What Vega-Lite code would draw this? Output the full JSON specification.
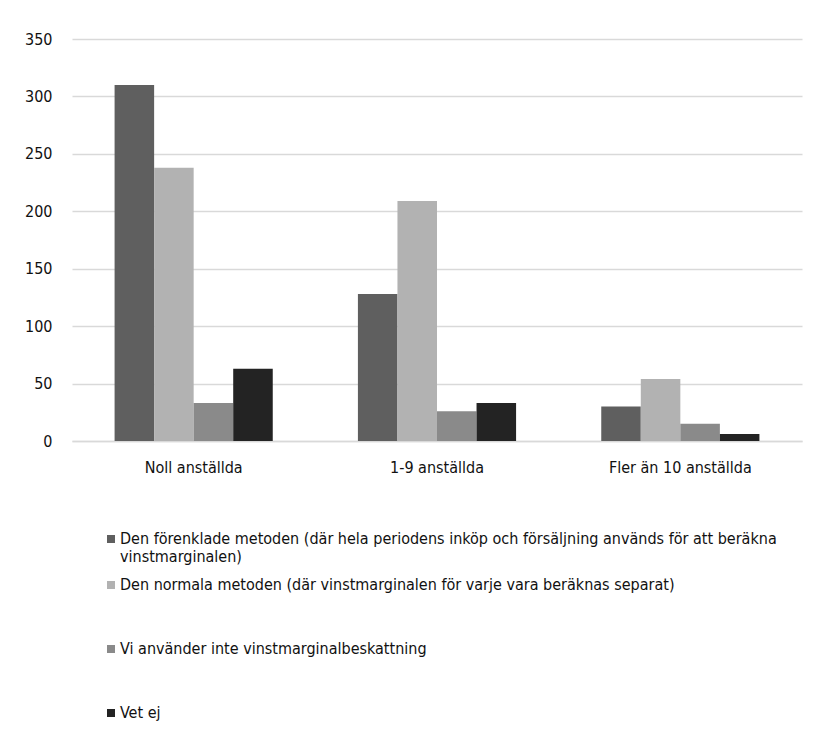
{
  "$schema": "https://vega.github.io/schema/vega-lite/v6.json",
  "width": 730,
  "height": 402,
  "autosize": {"type": "none"},
  "padding": {"left": 72, "top": 39, "right": 27, "bottom": 300},
  "background": "white",
  "data": {
    "values": [
      {"grupp": "Noll anställda", "metod": "Den förenklade metoden (där hela periodens inköp och försäljning används för att beräkna vinstmarginalen)", "antal": 310},
      {"grupp": "Noll anställda", "metod": "Den normala metoden (där vinstmarginalen för varje vara beräknas separat)", "antal": 238},
      {"grupp": "Noll anställda", "metod": "Vi använder inte vinstmarginalbeskattning", "antal": 33},
      {"grupp": "Noll anställda", "metod": "Vet ej", "antal": 63},
      {"grupp": "1-9 anställda", "metod": "Den förenklade metoden (där hela periodens inköp och försäljning används för att beräkna vinstmarginalen)", "antal": 128},
      {"grupp": "1-9 anställda", "metod": "Den normala metoden (där vinstmarginalen för varje vara beräknas separat)", "antal": 209},
      {"grupp": "1-9 anställda", "metod": "Vi använder inte vinstmarginalbeskattning", "antal": 26},
      {"grupp": "1-9 anställda", "metod": "Vet ej", "antal": 33},
      {"grupp": "Fler än 10 anställda", "metod": "Den förenklade metoden (där hela periodens inköp och försäljning används för att beräkna vinstmarginalen)", "antal": 30},
      {"grupp": "Fler än 10 anställda", "metod": "Den normala metoden (där vinstmarginalen för varje vara beräknas separat)", "antal": 54},
      {"grupp": "Fler än 10 anställda", "metod": "Vi använder inte vinstmarginalbeskattning", "antal": 15},
      {"grupp": "Fler än 10 anställda", "metod": "Vet ej", "antal": 6}
    ]
  },
  "mark": {"type": "bar"},
  "encoding": {
    "x": {
      "field": "grupp",
      "type": "nominal",
      "sort": ["Noll anställda", "1-9 anställda", "Fler än 10 anställda"],
      "scale": {"paddingInner": 0.35, "paddingOuter": 0.175},
      "axis": {
        "title": null,
        "labelAngle": 0,
        "ticks": false,
        "domainColor": "#d9d9d9",
        "domainWidth": 1.5,
        "labelPadding": 18,
        "labelFontSize": 16,
        "labelColor": "#111111",
        "labelFont": "Liberation Sans Narrow, DejaVu Sans Condensed, sans-serif"
      }
    },
    "xOffset": {
      "field": "metod",
      "type": "nominal",
      "sort": [
        "Den förenklade metoden (där hela periodens inköp och försäljning används för att beräkna vinstmarginalen)",
        "Den normala metoden (där vinstmarginalen för varje vara beräknas separat)",
        "Vi använder inte vinstmarginalbeskattning",
        "Vet ej"
      ],
      "scale": {"paddingInner": 0, "paddingOuter": 0}
    },
    "y": {
      "field": "antal",
      "type": "quantitative",
      "scale": {"domain": [0, 350], "nice": false},
      "axis": {
        "title": null,
        "values": [0, 50, 100, 150, 200, 250, 300, 350],
        "domain": false,
        "ticks": false,
        "gridColor": "#d9d9d9",
        "gridWidth": 1.5,
        "labelPadding": 20,
        "labelFontSize": 16,
        "labelColor": "#111111",
        "labelFont": "Liberation Sans Narrow, DejaVu Sans Condensed, sans-serif"
      }
    },
    "color": {
      "field": "metod",
      "type": "nominal",
      "sort": [
        "Den förenklade metoden (där hela periodens inköp och försäljning används för att beräkna vinstmarginalen)",
        "Den normala metoden (där vinstmarginalen för varje vara beräknas separat)",
        "Vi använder inte vinstmarginalbeskattning",
        "Vet ej"
      ],
      "scale": {"range": ["#5f5f5f", "#b2b2b2", "#8a8a8a", "#232323"]},
      "legend": {
        "title": null,
        "orient": "none",
        "legendX": 31,
        "legendY": 492,
        "direction": "vertical",
        "symbolType": "square",
        "symbolSize": 64,
        "symbolStrokeWidth": 0,
        "labelOffset": 1,
        "rowPadding": 12,
        "labelFontSize": 16,
        "labelColor": "#111111",
        "labelLimit": 800,
        "labelFont": "Liberation Sans Narrow, DejaVu Sans Condensed, sans-serif",
        "labelExpr": "indexof(datum.label, 'beräkna vinst') >= 0 ? ['Den förenklade metoden (där hela periodens inköp och försäljning används för att beräkna', 'vinstmarginalen)'] : datum.label == 'Vet ej' ? datum.label : [datum.label, '', '']"
      }
    }
  },
  "config": {
    "view": {"stroke": null}
  }
}
